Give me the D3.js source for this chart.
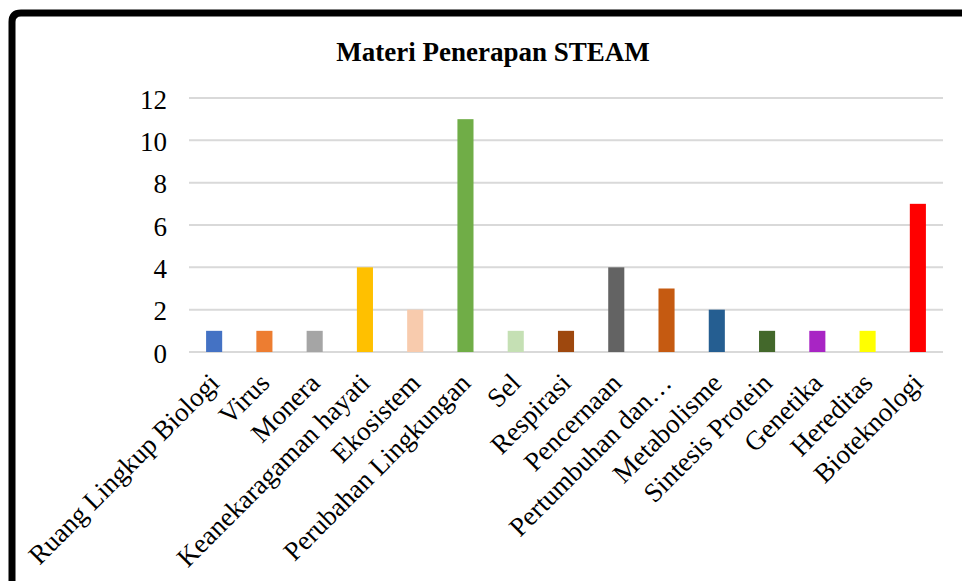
<!DOCTYPE html>
<html>
<head>
<meta charset="utf-8">
<script src="https://cdn.jsdelivr.net/npm/d3@7"></script>
<style>
  body { margin: 0; background: #fff; }
  svg { display: block; }
  .axis text { font-family: "Liberation Serif", "Times New Roman", serif; font-size: 27px; fill: #000; }
  .grid line { stroke: #d9d9d9; stroke-width: 2; }
</style>
</head>
<body>
<div id="chart"></div>
<script>
let categories = ["Ruang Lingkup Biologi", "Virus", "Monera", "Keanekaragaman hayati", "Ekosistem",
  "Perubahan Lingkungan", "Sel", "Respirasi", "Pencernaan", "Pertumbuhan dan\u2026",
  "Metabolisme", "Sintesis Protein", "Genetika", "Hereditas", "Bioteknologi"];
let values = [1, 1, 1, 4, 2, 11, 1, 1, 4, 3, 2, 1, 1, 1, 7];
let colors = ["#4472C4", "#ED7D31", "#A5A5A5", "#FFC000", "#F8CBAD", "#70AD47", "#C5E0B4", "#9E480E",
  "#636363", "#C55A11", "#255E91", "#43682B", "#A825C4", "#FFFF00", "#FF0000"];
let yTicks = [0, 2, 4, 6, 8, 10, 12];

let W = 962, H = 581;
let margin = {top: 98, right: 19, bottom: 229, left: 189},
    width = W - margin.left - margin.right,
    height = H - margin.top - margin.bottom;

let svg = d3.select("#chart").append("svg")
    .attr("width", W)
    .attr("height", H);

// ===== frame (cropped on the right and bottom) =====
svg.append("path")
    .attr("d", "M12,600 L12,22 Q12,13 21,13 L980,13")
    .attr("fill", "none")
    .attr("stroke", "#000")
    .attr("stroke-width", 7);

svg.append("text")
    .attr("x", 493)
    .attr("y", 61)
    .attr("text-anchor", "middle")
    .style("font-family", "'Liberation Serif', 'Times New Roman', serif")
    .style("font-size", "27px")
    .style("font-weight", "bold")
    .text("Materi Penerapan STEAM");

let g = svg.append("g")
    .attr("transform", "translate(" + margin.left + "," + margin.top + ")");

let x = d3.scaleBand().domain(categories).range([0, width]).paddingInner(0.68).paddingOuter(0.34),
    y = d3.scaleLinear().domain([0, 12]).range([height, 0]);

// gridlines
g.append("g")
    .attr("class", "grid")
  .selectAll("line")
  .data(yTicks)
  .enter().append("line")
    .attr("x1", 0)
    .attr("x2", width)
    .attr("y1", d => y(d))
    .attr("y2", d => y(d));

// y axis
g.append("g")
    .attr("class", "axis axis--y")
    .attr("transform", "translate(-22,0)")
    .call(d3.axisLeft(y).tickValues(yTicks).tickSize(0).tickPadding(0))
    .call(a => a.select(".domain").remove())
    .selectAll("text").attr("dy", "0.38em");

// bars
g.selectAll(".bar")
  .data(values)
  .enter().append("rect")
    .attr("class", "bar")
    .attr("fill", (d, i) => colors[i])
    .attr("x", (d, i) => x(categories[i]))
    .attr("width", x.bandwidth())
    .attr("y", d => y(d))
    .attr("height", d => height - y(d));

// x axis labels
let xAxis = g.append("g")
    .attr("class", "axis axis--x")
    .attr("transform", "translate(0," + height + ")")
    .call(d3.axisBottom(x).tickSize(0).tickPadding(0));
xAxis.select(".domain").remove();
xAxis.selectAll("text")
    .attr("text-anchor", "end")
    .attr("dy", "0.35em")
    .attr("transform", "translate(0,26) rotate(-45)");
</script>
</body>
</html>
